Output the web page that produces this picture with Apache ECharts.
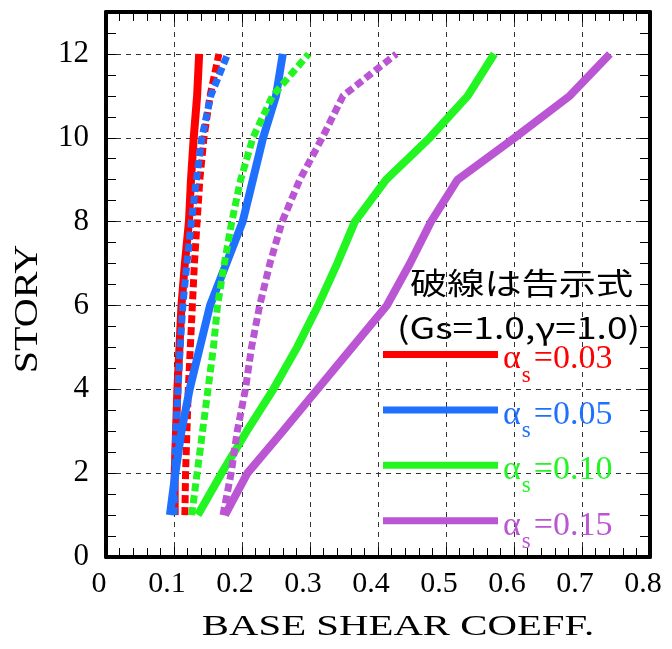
<!DOCTYPE html>
<html>
<head>
<meta charset="utf-8">
<script src="https://cdn.jsdelivr.net/npm/echarts@6/dist/echarts.min.js"></script>
<style>
  html, body { margin: 0; padding: 0; background: #fff; }
  #chart { width: 672px; height: 649px; }
</style>
</head>
<body>
<div id="chart"></div>
<script>
// Story levels (1F .. 12F)
const stories = [1, 2, 3, 4, 5, 6, 7, 8, 9, 10, 11, 12];

// Base shear coefficient per story, solid = analysis, dashed = code formula (告示式)
const a03 = [0.101, 0.101, 0.103, 0.105, 0.108, 0.111, 0.116, 0.122, 0.125, 0.129, 0.134, 0.137];
const a03Code = [0.116, 0.117, 0.119, 0.121, 0.124, 0.127, 0.130, 0.134, 0.138, 0.144, 0.153, 0.166];
const a05 = [0.094, 0.102, 0.111, 0.123, 0.138, 0.153, 0.177, 0.201, 0.216, 0.231, 0.250, 0.260];
const a05Code = [0.100, 0.101, 0.1025, 0.106, 0.109, 0.113, 0.119, 0.1255, 0.133, 0.141, 0.154, 0.179];
const a10 = [0.135, 0.170, 0.207, 0.246, 0.281, 0.312, 0.340, 0.366, 0.412, 0.476, 0.532, 0.571];
const a10Code = [0.126, 0.134, 0.142, 0.150, 0.158, 0.164, 0.174, 0.185, 0.198, 0.216, 0.245, 0.298];
const a15 = [0.175, 0.208, 0.260, 0.311, 0.362, 0.413, 0.447, 0.478, 0.517, 0.601, 0.682, 0.741];
const a15Code = [0.172, 0.184, 0.193, 0.205, 0.214, 0.226, 0.241, 0.259, 0.285, 0.318, 0.3485, 0.427];

const seriesNames = ['αs=0.03', 'αs=0.05', 'αs=0.10', 'αs=0.15'];
const codeNames = ['告示式 αs=0.03', '告示式 αs=0.05', '告示式 αs=0.10', '告示式 αs=0.15'];
const colors = ['#ff0000', '#2070ff', '#22f522', '#ba55d3'];

const solidValues = [a03, a05, a10, a15];
const codeValues = [a03Code, a05Code, a10Code, a15Code];

const SERIF = '"Liberation Serif", "Times New Roman", serif';
const CJK = '"Noto Sans CJK JP", sans-serif';

function lineSeries(name, vals, color, dashed) {
  return {
    type: 'line',
    name: name,
    data: stories.map((s, i) => [vals[i], s]),
    showSymbol: false,
    symbol: 'none',
    silent: true,
    color: color,
    itemStyle: { color: color },
    lineStyle: { color: color, width: dashed ? 7 : 8, type: dashed ? [8, 4] : 'solid', cap: 'butt' },
    emphasis: { disabled: true }
  };
}

const series = [];
for (let k = 0; k < 4; k++) {
  series.push(lineSeries(seriesNames[k], solidValues[k], colors[k], false));
  series.push(lineSeries(codeNames[k], codeValues[k], colors[k], true));
}

const frame = { show: true, onZero: false, lineStyle: { color: '#000', width: 4 } };
const tick = { show: true, inside: true, length: 10, lineStyle: { color: '#000', width: 1 } };
const gridDash = { show: true, lineStyle: { color: '#333', width: 1, type: [5, 5] } };

const option = {
  animation: false,
  grid: { left: 106, right: 22, top: 12, bottom: 92, containLabel: false },
  xAxis: [
    {
      type: 'value', position: 'bottom', min: 0, max: 0.8, interval: 0.1,
      axisLine: frame, axisTick: tick,
      minorTick: { show: true, splitNumber: 5, length: 9, lineStyle: { color: '#000', width: 1 } },
      splitLine: gridDash,
      axisLabel: {
        color: '#000', fontFamily: SERIF, fontSize: 30, margin: 12, padding: [0, 14, 0, 0],
        formatter: v => (v === 0 ? '0' : v.toFixed(1))
      }
    },
    {
      type: 'value', position: 'top', min: 0, max: 0.8, interval: 0.1,
      axisLine: frame, axisTick: tick,
      minorTick: { show: true, splitNumber: 5, length: 9, lineStyle: { color: '#000', width: 1 } },
      splitLine: { show: false }, axisLabel: { show: false }
    }
  ],
  yAxis: [
    {
      type: 'value', position: 'left', min: 0, max: 13, interval: 0.5,
      axisLine: frame, axisTick: tick, splitLine: { show: false },
      axisLabel: {
        color: '#000', fontFamily: SERIF, fontSize: 31, margin: 17,
        formatter: v => (v % 2 === 0 && v <= 12 ? String(v) : '')
      }
    },
    {
      type: 'value', position: 'right', min: 0, max: 13, interval: 0.5,
      axisLine: frame, axisTick: tick, splitLine: { show: false }, axisLabel: { show: false }
    },
    {
      type: 'value', position: 'left', min: 0, max: 13, interval: 2,
      axisLine: { show: false }, axisTick: { show: false }, axisLabel: { show: false },
      splitLine: gridDash
    }
  ],
  legend: {
    orient: 'vertical', left: 378, top: 317, icon: 'rect',
    itemWidth: 115, itemHeight: 7, itemGap: -9.6, selectedMode: false,
    data: seriesNames.map((n, i) => ({ name: n, textStyle: { color: colors[i] } })),
    formatter: name => '{a|α}{s|s}{b|' + name.slice(2) + '}',
    textStyle: {
      fontFamily: SERIF, fontSize: 34,
      rich: {
        a: { fontFamily: SERIF, fontSize: 34, lineHeight: 34, padding: [10, 0, 0, 0], verticalAlign: 'middle' },
        s: { fontFamily: SERIF, fontSize: 23, lineHeight: 20, padding: [42, 3, 0, 1], verticalAlign: 'middle' },
        b: { fontFamily: SERIF, fontSize: 34, lineHeight: 34, padding: [10, 0, 0, 0], verticalAlign: 'middle' }
      }
    }
  },
  graphic: [
    {
      type: 'text', x: 410, y: 283, scaleX: 1.24, silent: true,
      style: { text: '破線は告示式', fontFamily: CJK, fontSize: 30, fill: '#000', align: 'left', verticalAlign: 'middle' }
    },
    {
      type: 'text', x: 397, y: 328, scaleX: 1.24, silent: true,
      style: { text: '(Gs=1.0,γ=1.0)', fontFamily: CJK, fontSize: 30, fill: '#000', align: 'left', verticalAlign: 'middle' }
    },
    {
      type: 'text', x: 398, y: 627, scaleX: 1.36, silent: true,
      style: { text: 'BASE SHEAR COEFF.', fontFamily: SERIF, fontSize: 30, fill: '#000', align: 'center', verticalAlign: 'middle' }
    },
    {
      type: 'text', x: 28, y: 309, rotation: Math.PI / 2, scaleX: 1.18, silent: true,
      style: { text: 'STORY', fontFamily: SERIF, fontSize: 34, fill: '#000', align: 'center', verticalAlign: 'middle' }
    }
  ],
  series: series
};

const chart = echarts.init(document.getElementById('chart'));
chart.setOption(option);
</script>
</body>
</html>
